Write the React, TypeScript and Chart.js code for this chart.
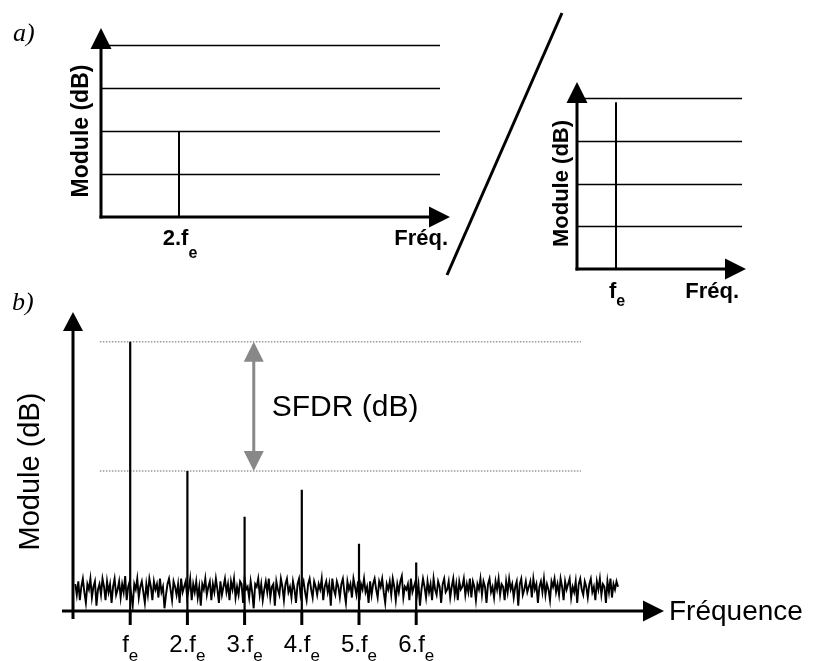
import React, { useEffect, useRef } from "react";
import { Chart, registerables } from "chart.js";
Chart.register(...registerables);

const SANS = "'Liberation Sans', Arial, sans-serif";
const SERIF = "'Liberation Serif', 'Times New Roman', serif";

// ---------- Panel a) left : 2.fe ----------
const aLeftGrid = [1, 2, 3, 4];
const aLeftSpikeX = [2];
const aLeftSpikeY = [2];
const aLeftTickMain = ["2.f"];
const aLeftTickSub = ["e"];

// ---------- Panel a) right : fe ----------
const aRightGrid = [1, 2, 3, 4];
const aRightSpikeX = [1];
const aRightSpikeY = [3.9];
const aRightTickMain = ["f"];
const aRightTickSub = ["e"];

// ---------- Panel b) ----------
const harmonics = [1, 2, 3, 4, 5, 6];
const harmonicPeaks = [100, 52, 35, 45, 25, 18];
const harmonicMain = ["f", "2.f", "3.f", "4.f", "5.f", "6.f"];
const harmonicSub = ["e", "e", "e", "e", "e", "e"];
const sfdrLevels = [100, 52];
const sfdrSpan = [0.47, 8.88];
const sfdrArrowX = 3.16;
const noiseStart = 0.04;
const noiseStep = 0.02643;
const noiseValues = [
  10, 6, 11, 4, 9, 12, 7, 3, 10, 8, 12, 5, 9, 11, 2, 8, 10, 6, 12, 9,
  4, 11, 7, 10, 3, 9, 12, 6, 8, 11, 5, 10, 7, 13, 4, 9, 11, 6, 2, 10,
  8, 12, 5, 9, 11, 7, 3, 10, 6, 12, 9, 4, 11, 8, 10, 5, 12, 7, 9, 1,
  6, 10, 12, 8, 4, 11, 9, 6, 10, 3, 12, 7, 9, 11, 5, 8, 12, 4, 10, 7,
  11, 5, 9, 2, 10, 8, 12, 6, 9, 11, 4, 10, 7, 12, 8, 3, 11, 6, 9, 12,
  7, 10, 4, 11, 8, 12, 5, 9, 6, 11, 10, 3, 12, 8, 9, 5, 11, 7, 1, 10,
  9, 12, 6, 10, 4, 8, 11, 7, 12, 5, 9, 10, 2, 11, 8, 6, 12, 9, 4, 10,
  12, 7, 9, 5, 11, 8, 3, 10, 12, 6, 9, 11, 7, 4, 10, 12, 8, 5, 11, 9,
  6, 10, 8, 12, 4, 9, 11, 7, 10, 2, 12, 8, 6, 11, 9, 5, 10, 12, 7, 3,
  11, 8, 10, 5, 12, 9, 6, 11, 4, 10, 8, 12, 7, 9, 3, 11, 6, 10, 12, 8,
  5, 11, 9, 12, 7, 3, 10, 8, 11, 6, 12, 9, 4, 10, 7, 11, 13, 5, 9, 8,
  10, 4, 12, 7, 9, 11, 6, 10, 2, 8, 12, 9, 5, 11, 7, 10, 4, 12, 8, 6,
  11, 9, 3, 10, 12, 7, 8, 11, 5, 9, 12, 6, 10, 4, 11, 8, 9, 12, 6, 10,
  7, 12, 5, 11, 9, 4, 10, 8, 12, 6, 11, 9, 3, 10, 12, 7, 9, 5, 11, 8,
  12, 6, 10, 9, 4, 11, 7, 12, 8, 10, 5, 9, 11, 2, 10, 12, 6, 8, 11, 7,
  9, 11, 5, 12, 8, 10, 3, 9, 11, 7, 12, 6, 10, 8, 4, 11, 9, 12, 7, 10,
  6, 12, 9, 4, 11, 8, 10, 12, 5, 9, 7, 11, 3, 10, 12, 8, 6, 11, 9, 5,
  10, 12, 7, 9, 4, 11, 8, 12, 6, 10, 9, 3, 11, 7, 12, 5, 10, 8, 11, 9,
];

const W = 814;
const H = 661;

function spikePoints(xs: number[], ys: number[]) {
  const pts: any[] = [];
  xs.forEach((x, i) => {
    pts.push({ x, y: 0 }, { x, y: ys[i] }, { x, y: null });
  });
  return pts;
}

function line(ctx: CanvasRenderingContext2D, x1: number, y1: number, x2: number, y2: number) {
  ctx.beginPath();
  ctx.moveTo(x1, y1);
  ctx.lineTo(x2, y2);
  ctx.stroke();
}

function head(ctx: CanvasRenderingContext2D, tx: number, ty: number, dir: string, len: number, half: number) {
  ctx.beginPath();
  if (dir === "up") {
    ctx.moveTo(tx, ty);
    ctx.lineTo(tx - half, ty + len);
    ctx.lineTo(tx + half, ty + len);
  } else if (dir === "down") {
    ctx.moveTo(tx, ty);
    ctx.lineTo(tx - half, ty - len);
    ctx.lineTo(tx + half, ty - len);
  } else {
    ctx.moveTo(tx, ty);
    ctx.lineTo(tx - len, ty - half);
    ctx.lineTo(tx - len, ty + half);
  }
  ctx.closePath();
  ctx.fill();
}

function subText(ctx: CanvasRenderingContext2D, main: string, sub: string, cx: number, base: number, size: number, subSize: number, subDrop: number, weight: string) {
  ctx.font = `${weight} ${size}px ${SANS}`;
  const w1 = ctx.measureText(main).width;
  ctx.font = `${weight} ${subSize}px ${SANS}`;
  const w2 = ctx.measureText(sub).width;
  const x0 = cx - (w1 + w2) / 2;
  ctx.textAlign = "left";
  ctx.textBaseline = "alphabetic";
  ctx.font = `${weight} ${size}px ${SANS}`;
  ctx.fillText(main, x0, base);
  ctx.font = `${weight} ${subSize}px ${SANS}`;
  ctx.fillText(sub, x0 + w1, base + subDrop);
}

function vText(ctx: CanvasRenderingContext2D, t: string, cx: number, cy: number, size: number, weight: string) {
  ctx.save();
  ctx.translate(cx, cy);
  ctx.rotate(-Math.PI / 2);
  ctx.font = `${weight} ${size}px ${SANS}`;
  ctx.textAlign = "center";
  ctx.textBaseline = "middle";
  ctx.fillText(t, 0, 0);
  ctx.restore();
}

function smallPanelPlugin(id: string, grid: number[], ticksX: number[], tickMain: string[], tickSub: string[], o: any) {
  return {
    id,
    beforeDatasetsDraw(chart: any) {
      const { ctx, scales } = chart;
      const x = scales.x, y = scales.y;
      ctx.save();
      ctx.strokeStyle = "#000";
      ctx.lineWidth = 1.3;
      grid.forEach((g) => {
        const py = Math.round(y.getPixelForValue(g)) + 0.5;
        line(ctx, x.getPixelForValue(0), py, x.right, py);
      });
      ctx.restore();
    },
    afterDraw(chart: any) {
      const { ctx, scales } = chart;
      const x = scales.x, y = scales.y;
      const x0 = x.getPixelForValue(0);
      const y0 = y.getPixelForValue(0);
      ctx.save();
      ctx.strokeStyle = "#000";
      ctx.fillStyle = "#000";
      ctx.lineWidth = 3;
      const yTip = y.top - o.yTipOff;
      const xTip = x.right + o.xTipOff;
      line(ctx, x0, y0 + 1.5, x0, yTip + 15);
      line(ctx, x0 - 1.5, y0, xTip - 15, y0);
      head(ctx, x0, yTip, "up", 21, 10.5);
      head(ctx, xTip, y0, "right", 21, 10.5);
      ticksX.forEach((tx, i) => {
        subText(ctx, tickMain[i], tickSub[i], x.getPixelForValue(tx) + 1, y0 + o.tickBase, o.font, o.subFont, o.subDrop, "bold");
      });
      ctx.font = `bold ${o.font}px ${SANS}`;
      ctx.textAlign = "right";
      ctx.textBaseline = "alphabetic";
      ctx.fillText("Fréq.", xTip + o.freqOff, y0 + o.tickBase);
      vText(ctx, "Module (dB)", x0 + o.modX, (y0 + y.top) / 2 + o.modY, o.modFont, "bold");
      ctx.restore();
    },
  };
}

const bottomPlugin = {
  id: "bottom",
  afterDraw(chart: any) {
    const { ctx, scales } = chart;
    const x = scales.x, y = scales.y;
    const x0 = x.getPixelForValue(0);
    const y0 = y.getPixelForValue(0);
    ctx.save();
    ctx.strokeStyle = "#000";
    ctx.fillStyle = "#000";
    ctx.lineWidth = 3;
    // axes
    line(ctx, x0, y0 + 8, x0, y.top + 15);
    head(ctx, x0, y.top, "up", 19, 10);
    line(ctx, x0 - 11, y0, x.right, y0);
    head(ctx, x.right + 19, y0, "right", 21, 10.5);
    // tick marks + labels
    harmonics.forEach((h, i) => {
      const px = x.getPixelForValue(h);
      line(ctx, px, y0, px, y0 + 14);
      subText(ctx, harmonicMain[i], harmonicSub[i], px, y0 + 41, 24, 17, 9, "normal");
    });
    ctx.font = `28px ${SANS}`;
    ctx.textAlign = "left";
    ctx.textBaseline = "middle";
    ctx.fillText("Fréquence", x.right + 24, y0 + 1);
    vText(ctx, "Module (dB)", 31, (y0 + y.top) / 2 + 10, 29, "normal");
    // SFDR arrow
    const ax = x.getPixelForValue(sfdrArrowX);
    const yTop = y.getPixelForValue(sfdrLevels[0]);
    const yBot = y.getPixelForValue(sfdrLevels[1]);
    ctx.strokeStyle = "#888";
    ctx.fillStyle = "#888";
    ctx.lineWidth = 3;
    line(ctx, ax, yTop + 15, ax, yBot - 15);
    head(ctx, ax, yTop, "up", 20, 10);
    head(ctx, ax, yBot, "down", 20, 10);
    ctx.fillStyle = "#000";
    ctx.font = `30px ${SANS}`;
    ctx.textAlign = "left";
    ctx.textBaseline = "middle";
    ctx.fillText("SFDR (dB)", ax + 18, (yTop + yBot) / 2 + 1);
    // decorations
    ctx.strokeStyle = "#000";
    ctx.lineWidth = 3;
    line(ctx, 562, 13, 447, 275);
    ctx.font = `italic 26px ${SERIF}`;
    ctx.textBaseline = "alphabetic";
    ctx.fillText("a)", 13, 41);
    ctx.fillText("b)", 12, 310);
    ctx.restore();
  },
};

function baseOptions(padding: any, xMax: number, yMax: number) {
  return {
    responsive: false,
    animation: false,
    events: [],
    layout: { padding },
    scales: {
      x: { type: "linear", min: 0, max: xMax, display: false },
      y: { type: "linear", min: 0, max: yMax, display: false },
    },
    plugins: { legend: { display: false }, tooltip: { enabled: false } },
  };
}

function ChartCanvas({ make }: { make: () => any }) {
  const ref = useRef<HTMLCanvasElement>(null);
  useEffect(() => {
    const c = new Chart(ref.current as HTMLCanvasElement, make());
    return () => c.destroy();
  }, []);
  return <canvas ref={ref} width={W} height={H} style={{ position: "absolute", left: 0, top: 0, width: W, height: H }} />;
}

const makeLeft = () => ({
  type: "line",
  data: {
    datasets: [
      { data: spikePoints(aLeftSpikeX, aLeftSpikeY), borderColor: "#000", borderWidth: 2, pointRadius: 0, spanGaps: false },
    ],
  },
  options: baseOptions({ left: 101, top: 45, right: W - 440, bottom: H - 217 }, 8.69, 4),
  plugins: [
    smallPanelPlugin("tl", aLeftGrid, aLeftSpikeX, aLeftTickMain, aLeftTickSub, {
      yTipOff: 17, xTipOff: 10, tickBase: 28, font: 22, subFont: 16, subDrop: 13, freqOff: -2, modX: -19, modY: 0, modFont: 23,
    }),
  ],
});

const makeRight = () => ({
  type: "line",
  data: {
    datasets: [
      { data: spikePoints(aRightSpikeX, aRightSpikeY), borderColor: "#000", borderWidth: 2, pointRadius: 0, spanGaps: false },
    ],
  },
  options: baseOptions({ left: 577, top: 98, right: W - 742, bottom: H - 269 }, 4.23, 4),
  plugins: [
    smallPanelPlugin("tr", aRightGrid, aRightSpikeX, aRightTickMain, aRightTickSub, {
      yTipOff: 16, xTipOff: 4, tickBase: 29, font: 22, subFont: 16, subDrop: 8, freqOff: -7, modX: -15, modY: 0, modFont: 22,
    }),
  ],
});

const makeBottom = () => ({
  type: "line",
  data: {
    datasets: [
      {
        data: noiseValues.map((v, i) => ({ x: noiseStart + i * noiseStep, y: v })),
        borderColor: "#000", borderWidth: 1.9, pointRadius: 0, tension: 0,
      },
      { data: spikePoints(harmonics, harmonicPeaks), borderColor: "#000", borderWidth: 2.2, pointRadius: 0, spanGaps: false },
      ...sfdrLevels.map((lv) => ({
        data: [{ x: sfdrSpan[0], y: lv }, { x: sfdrSpan[1], y: lv }],
        borderColor: "#999", borderWidth: 1.5, borderDash: [1.5, 1.5], pointRadius: 0,
      })),
    ],
  },
  options: baseOptions({ left: 73, top: 312, right: W - 645, bottom: H - 611 }, 10, 111),
  plugins: [bottomPlugin],
});

export default function App() {
  return (
    <div style={{ position: "absolute", left: 0, top: 0, width: W, height: H, background: "#fff" }}>
      <ChartCanvas make={makeLeft} />
      <ChartCanvas make={makeRight} />
      <ChartCanvas make={makeBottom} />
    </div>
  );
}
